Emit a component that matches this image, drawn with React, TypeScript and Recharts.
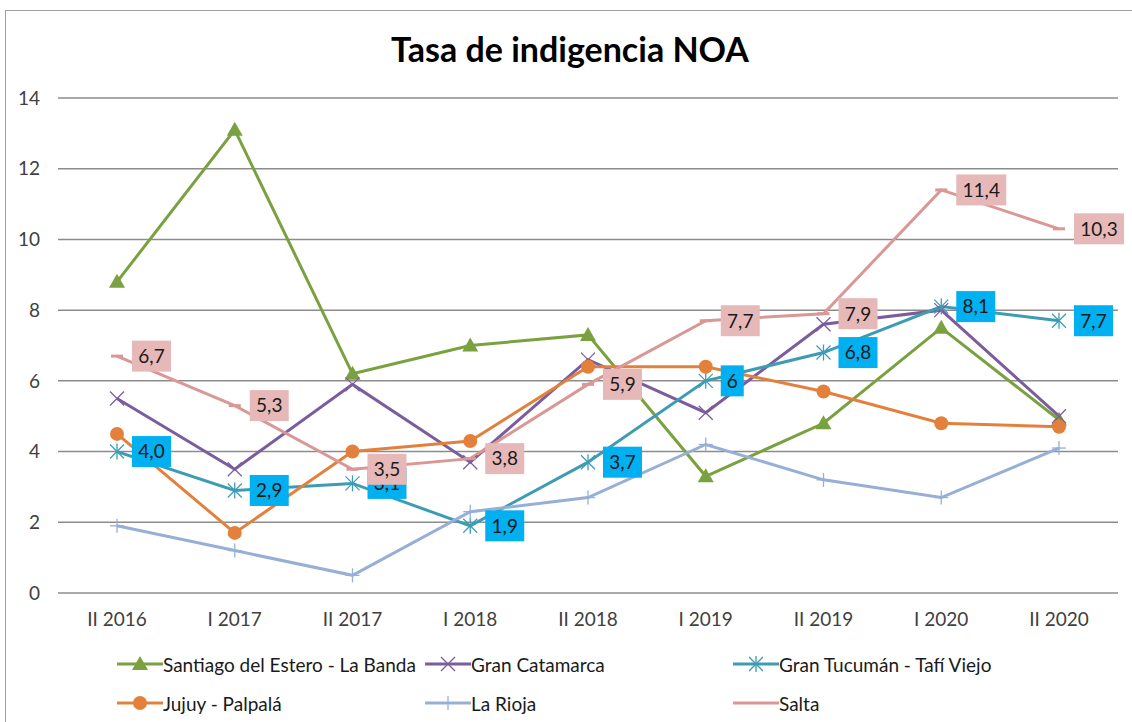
import { LineChart, Line, XAxis, YAxis, CartesianGrid, LabelList } from 'recharts';

const FONT = 'Lato, "Open Sans", sans-serif';

const periodos = ['II 2016', 'I 2017', 'II 2017', 'I 2018', 'II 2018', 'I 2019', 'II 2019', 'I 2020', 'II 2020'];

const santiago = [8.8, 13.1, 6.2, 7.0, 7.3, 3.3, 4.8, 7.5, 4.9];
const catamarca = [5.5, 3.5, 5.9, 3.7, 6.6, 5.1, 7.6, 8.0, 5.0];
const tucuman = [4.0, 2.9, 3.1, 1.9, 3.7, 6.0, 6.8, 8.1, 7.7];
const jujuy = [4.5, 1.7, 4.0, 4.3, 6.4, 6.4, 5.7, 4.8, 4.7];
const rioja = [1.9, 1.2, 0.5, 2.3, 2.7, 4.2, 3.2, 2.7, 4.1];
const salta = [6.7, 5.3, 3.5, 3.8, 5.9, 7.7, 7.9, 11.4, 10.3];

// etiquetas tal como aparecen en el original
const tucumanLabels = ['4,0', '2,9', '3,1', '1,9', '3,7', '6', '6,8', '8,1', '7,7'];
const saltaLabels = ['6,7', '5,3', '3,5', '3,8', '5,9', '7,7', '7,9', '11,4', '10,3'];

const yTicks = [0, 2, 4, 6, 8, 10, 12, 14];

const C = {
  santiago: '#7aa140',
  catamarca: '#7b5c9c',
  tucuman: '#3d9cb4',
  jujuy: '#e3813c',
  rioja: '#97afd6',
  salta: '#d99896',
};

const data = periodos.map((p, i) => ({
  periodo: p,
  santiago: santiago[i],
  catamarca: catamarca[i],
  tucuman: tucuman[i],
  jujuy: jujuy[i],
  rioja: rioja[i],
  salta: salta[i],
}));

type Marker = 'triangle' | 'x' | 'star' | 'circle' | 'plus' | 'dash';

function MarkerShape({ cx, cy, kind, color }: { cx: number; cy: number; kind: Marker; color: string }) {
  if (cx == null || cy == null) return null;
  const s = 7;
  switch (kind) {
    case 'triangle':
      return <polygon points={`${cx},${cy - 8} ${cx - 8},${cy + 6} ${cx + 8},${cy + 6}`} fill={color} />;
    case 'circle':
      return <circle cx={cx} cy={cy} r={7} fill={color} />;
    case 'x':
      return (
        <g stroke={color} strokeWidth={1.3}>
          <line x1={cx - s} y1={cy - s} x2={cx + s} y2={cy + s} />
          <line x1={cx - s} y1={cy + s} x2={cx + s} y2={cy - s} />
        </g>
      );
    case 'star':
      return (
        <g stroke={color} strokeWidth={1.3}>
          <line x1={cx - s} y1={cy - s} x2={cx + s} y2={cy + s} />
          <line x1={cx - s} y1={cy + s} x2={cx + s} y2={cy - s} />
          <line x1={cx} y1={cy - s - 1} x2={cx} y2={cy + s + 1} />
        </g>
      );
    case 'plus':
      return (
        <g stroke={color} strokeWidth={1.3}>
          <line x1={cx - s} y1={cy} x2={cx + s} y2={cy} />
          <line x1={cx} y1={cy - s} x2={cx} y2={cy + s} />
        </g>
      );
    case 'dash':
      return <line x1={cx - 6} y1={cy} x2={cx + 6} y2={cy} stroke={color} strokeWidth={3} />;
  }
  return null;
}

const dotOf = (kind: Marker, color: string) => (props: any) => (
  <MarkerShape key={`${kind}-${props.index}`} cx={props.cx} cy={props.cy} kind={kind} color={color} />
);

const charW = (ch: string) => (ch === ',' ? 5 : 11);

function BoxLabel(props: any, labels: string[], bg: string) {
  const { x, y, index } = props;
  if (x == null || y == null) return null;
  const txt = labels[index];
  const w = txt.split('').reduce((a: number, c: string) => a + charW(c), 0) + 12;
  const h = 31;
  const left = x + 15;
  return (
    <g key={`lbl-${bg}-${index}`}>
      <rect x={left} y={y - h / 2} width={w} height={h} fill={bg} />
      <text x={left + w / 2} y={y} dy="0.36em" textAnchor="middle" fontSize={19} fontFamily={FONT} fill="#1a1a1a">
        {txt}
      </text>
    </g>
  );
}

const legendItems: { name: string; color: string; kind: Marker }[] = [
  { name: 'Santiago del Estero - La Banda', color: C.santiago, kind: 'triangle' },
  { name: 'Gran Catamarca', color: C.catamarca, kind: 'x' },
  { name: 'Gran Tucumán - Tafí Viejo', color: C.tucuman, kind: 'star' },
  { name: 'Jujuy - Palpalá', color: C.jujuy, kind: 'circle' },
  { name: 'La Rioja', color: C.rioja, kind: 'plus' },
  { name: 'Salta', color: C.salta, kind: 'dash' },
];

function LegendBox() {
  const cols = [117, 425, 733];
  const rows = [664, 703];
  return (
    <>
      {legendItems.map((it, i) => (
        <div
          key={it.name}
          style={{
            position: 'absolute',
            left: cols[i % 3],
            top: rows[Math.floor(i / 3)] - 12,
            height: 24,
            display: 'flex',
            alignItems: 'center',
            fontFamily: FONT,
            fontSize: 19,
            color: '#1a1a1a',
            whiteSpace: 'nowrap',
          }}
        >
          <svg width={46} height={24} style={{ display: 'block' }}>
            <line x1={0} y1={12} x2={46} y2={12} stroke={it.color} strokeWidth={3} />
            {it.kind !== 'dash' && <MarkerShape cx={23} cy={12} kind={it.kind} color={it.color} />}
          </svg>
          <span>{it.name}</span>
        </div>
      ))}
    </>
  );
}

export default function App() {
  const tick = { fontSize: 19, fill: '#404040', fontFamily: FONT };
  return (
    <div style={{ position: 'absolute', left: 0, top: 0, width: 1132, height: 722, background: '#fff', overflow: 'hidden' }}>
      <div
        style={{
          position: 'absolute',
          left: 5,
          top: 10,
          width: 1140,
          height: 730,
          border: '1.5px solid #a0a0a0',
          boxSizing: 'border-box',
        }}
      />
      <div
        style={{
          position: 'absolute',
          left: 0,
          width: 1140,
          top: 28,
          textAlign: 'center',
          fontFamily: FONT,
          fontWeight: 700,
          fontSize: 34,
          color: '#000',
        }}
      >
        Tasa de indigencia NOA
      </div>
      <div style={{ position: 'absolute', left: 0, top: 0 }}>
        <LineChart width={1132} height={722} data={data} margin={{ top: 98, right: 14, left: 0, bottom: 99 }}>
          <CartesianGrid vertical={false} stroke="#8c8c8c" strokeWidth={1.5} />
          <XAxis
            dataKey="periodo"
            tick={tick}
            tickLine={false}
            axisLine={false}
            tickMargin={14}
            height={30}
            interval={0}
            padding={{ left: 59, right: 59 }}
          />
          <YAxis
            domain={[0, 14]}
            ticks={yTicks}
            tick={tick}
            tickLine={false}
            axisLine={false}
            tickMargin={12}
            width={58}
          />
          <Line dataKey="santiago" stroke={C.santiago} strokeWidth={3} dot={dotOf('triangle', C.santiago)} activeDot={false} isAnimationActive={false} />
          <Line dataKey="catamarca" stroke={C.catamarca} strokeWidth={3} dot={dotOf('x', C.catamarca)} activeDot={false} isAnimationActive={false} />
          <Line dataKey="tucuman" stroke={C.tucuman} strokeWidth={3} dot={dotOf('star', C.tucuman)} activeDot={false} isAnimationActive={false} />
          <Line dataKey="jujuy" stroke={C.jujuy} strokeWidth={3} dot={dotOf('circle', C.jujuy)} activeDot={false} isAnimationActive={false} />
          <Line dataKey="rioja" stroke={C.rioja} strokeWidth={3} dot={dotOf('plus', C.rioja)} activeDot={false} isAnimationActive={false} />
          <Line dataKey="salta" stroke={C.salta} strokeWidth={3} dot={dotOf('dash', C.salta)} activeDot={false} isAnimationActive={false} />
          {/* series invisibles solo para dibujar las etiquetas por encima de todas las líneas */}
          <Line dataKey="tucuman" stroke="none" dot={false} activeDot={false} isAnimationActive={false} legendType="none">
            <LabelList dataKey="tucuman" content={(p: any) => BoxLabel(p, tucumanLabels, '#00b0f0')} />
          </Line>
          <Line dataKey="salta" stroke="none" dot={false} activeDot={false} isAnimationActive={false} legendType="none">
            <LabelList dataKey="salta" content={(p: any) => BoxLabel(p, saltaLabels, '#e6b9b8')} />
          </Line>
        </LineChart>
      </div>
      <LegendBox />
    </div>
  );
}
